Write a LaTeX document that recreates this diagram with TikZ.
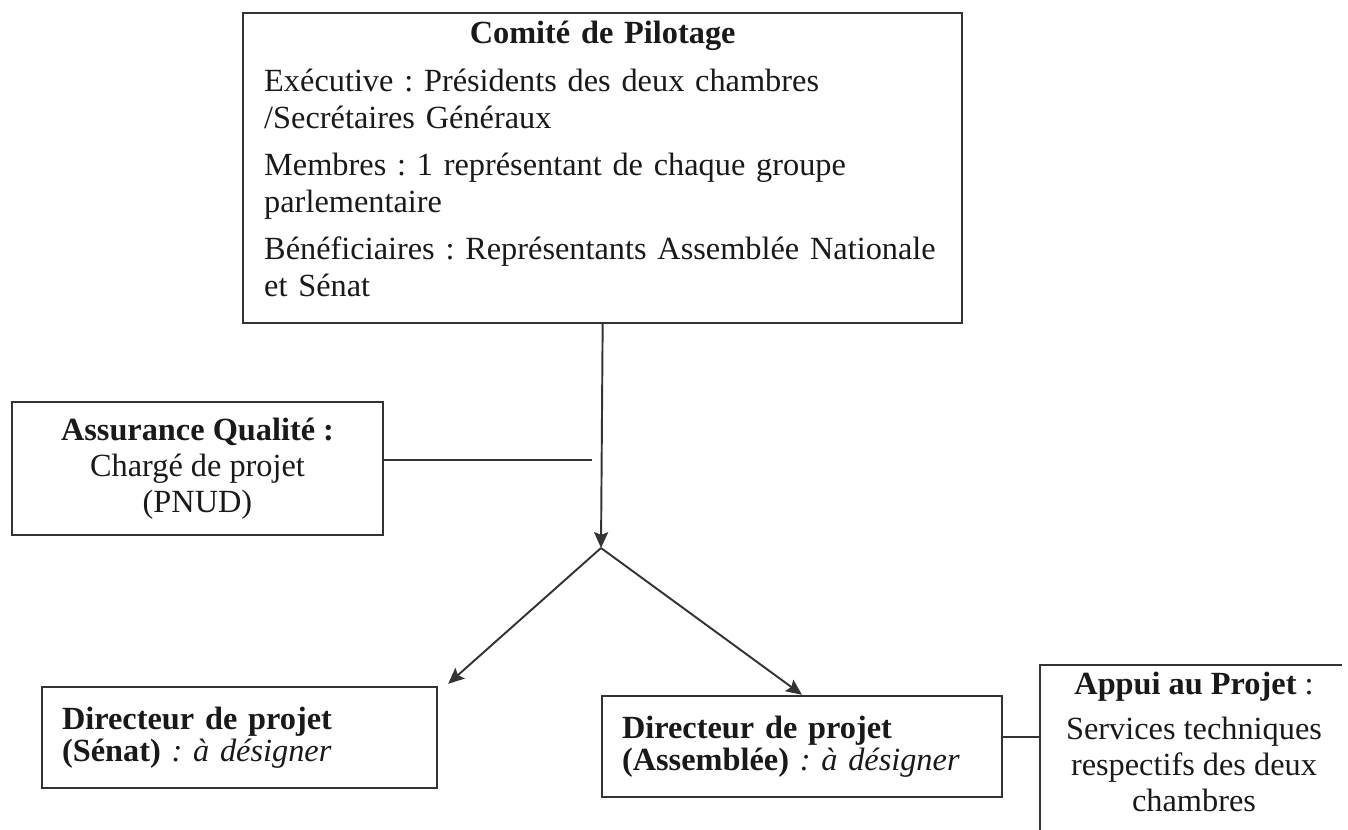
\documentclass[tikz,border=0pt]{standalone}
\usepackage{fontspec}
\setmainfont{Liberation Serif}
\frenchspacing
\usetikzlibrary{arrows.meta}
\tikzstyle{frame}=[draw=black!80, line width=1.4pt]
\tikzstyle{box}=[frame, inner sep=0pt]
\tikzstyle{link}=[draw=black!80, line width=1.1pt]
\tikzstyle{arrow}=[link, -{Stealth[length=9pt,width=8pt,inset=1.5pt]}]
\newcommand{\bodyfont}{\fontsize{18.4}{21}\selectfont}
\newcommand{\dirfont}{\fontsize{18.4}{18.5}\selectfont}
\newcommand{\midfont}{\fontsize{18.4}{20.5}\selectfont}

\begin{document}
\begin{tikzpicture}[x=0.02cm, y=-0.02cm, font=\bodyfont, text=black!90]
\useasboundingbox (0,0) rectangle (1348,830);
%boxes
\node[box, anchor=north west, inner xsep=0.42cm, inner ysep=0.16cm,
      text width=13.54cm, minimum height=6.18cm] (comite) at (242,12) {%
  \setlength{\parskip}{6pt}%
  \centering\textbf{Comité de Pilotage}\par
  \raggedright Exécutive : Présidents des deux chambres\\
  /Secrétaires Généraux\par
  Membres : 1 représentant de chaque groupe\\
  parlementaire\par
  Bénéficiaires : Représentants Assemblée Nationale\\
  et Sénat\par
  \vspace{0.36cm}};
\node[box, minimum width=7.42cm, minimum height=2.66cm, align=center,
      font=\midfont] (assur) at (197.5,468.5)
  {\textbf{Assurance Qualité :}\\ Chargé de projet\\ (PNUD)};
\node[box, minimum height=2.02cm, inner xsep=0.4cm, text width=7.1cm,
      align=left, font=\dirfont] (senat) at (239.5,737.5)
  {\textbf{Directeur de projet}\\ \textbf{(Sénat)} \textit{: à désigner}};
\node[box, minimum height=2.02cm, inner xsep=0.4cm, text width=7.2cm,
      align=left, font=\dirfont] (asm) at (802,746.5)
  {\textbf{Directeur de projet}\\ \textbf{(Assemblée)} \textit{: à désigner}};
%open box on the right
\node[align=center, inner sep=0pt, font=\midfont] (appui) at (1194,742)
  {\textbf{Appui au Projet} :\\[5pt] Services techniques\\ respectifs des deux\\ chambres};
\coordinate (appuiNE) at (1342,665);
\coordinate (appuiNW) at (1040,665);
\coordinate (appuiSW) at (1040,830);
\draw[frame] (appuiNE) -- (appuiNW) -- (appuiSW);
%connectors
\coordinate (branch) at (601,548);
\coordinate (qualEnd) at (592,460);
\coordinate (appuiJoin) at (1040,737);
\draw[arrow] (comite.south) -- (branch);
\draw[link] (assur.east |- qualEnd) -- (qualEnd);
\draw[arrow] (branch) -- ([xshift=0.2cm, yshift=0.04cm]senat.north east);
\draw[arrow] (branch) -- (asm.north);
\draw[link] (asm.east |- appuiJoin) -- (appuiJoin);
\end{tikzpicture}
\end{document}
